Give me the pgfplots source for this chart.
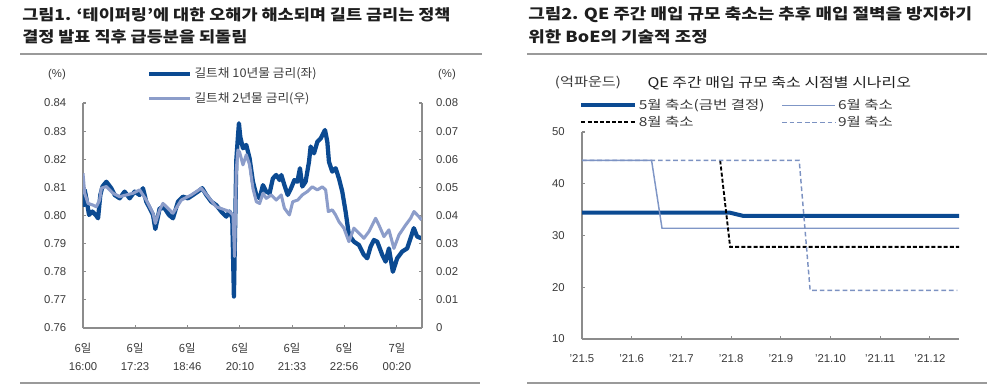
\documentclass[border=0pt]{standalone}
\usepackage{graphicx}
\usepackage{pgfplots}
\pgfplotsset{compat=1.18}
\usepackage{fontspec}
\setmainfont{Liberation Sans}
\newfontfamily\kr{Noto Sans CJK KR}
\definecolor{dkb}{HTML}{0B4A92}
\definecolor{ltb}{HTML}{8C9DCA}
\definecolor{six}{HTML}{7F96C6}
\definecolor{nine}{HTML}{7C92C2}
\definecolor{axg}{HTML}{8C8C8C}
\definecolor{txg}{HTML}{3A3A3A}
\definecolor{ttl}{HTML}{1E1E1E}
\definecolor{rul}{HTML}{9A9A9A}
\newcommand{\sx}[2]{\scalebox{#1}[1]{#2}}

\pgfplotstableread{
m v
0 0.8031
2.7 0.8091
5.3 0.8061
9.6 0.8002
14.9 0.8014
20.2 0.8002
24.0 0.7990
27.6 0.8073
31.0 0.8103
37.2 0.8120
45.1 0.8097
50.4 0.8073
58.4 0.8061
66.3 0.8085
74.3 0.8061
82.2 0.8085
90.2 0.8073
95.5 0.8097
100.8 0.8049
106.2 0.8026
111.5 0.8002
115.2 0.7952
119.4 0.7996
122.1 0.8026
130.0 0.8026
136.9 0.8002
143.3 0.7990
151.3 0.8049
159.2 0.8067
167.2 0.8061
175.2 0.8073
183.1 0.8085
190.0 0.8097
196.4 0.8073
204.4 0.8049
212.3 0.8037
220.3 0.8014
228.2 0.7996
233.5 0.8014
237.8 0.7990
240.4 0.7712
244.2 0.8197
246.8 0.8280
248.4 0.8328
250.5 0.8280
254.8 0.8239
260.1 0.8251
265.4 0.8203
270.7 0.8120
276.1 0.8073
281.4 0.8061
286.6 0.8108
291.9 0.8085
297.2 0.8079
302.5 0.8132
307.8 0.8144
313.2 0.8126
316.0 0.8144
320.8 0.8108
326.1 0.8073
331.4 0.8097
336.7 0.8126
341.5 0.8120
345.6 0.8168
349.3 0.8103
354.6 0.8120
360.0 0.8191
362.6 0.8245
368.0 0.8221
373.3 0.8262
378.6 0.8274
385.5 0.8304
389.2 0.8262
391.8 0.8191
397.1 0.8156
402.4 0.8168
407.7 0.8132
413.0 0.8085
418.3 0.8014
423.6 0.7931
431.6 0.7907
439.6 0.7895
447.5 0.7860
452.8 0.7848
458.1 0.7889
463.4 0.7913
468.7 0.7907
476.7 0.7860
482.0 0.7836
487.3 0.7883
493.6 0.7800
500.5 0.7848
508.5 0.7872
516.4 0.7883
521.7 0.7919
527.0 0.7955
532.3 0.7925
539.2 0.7919
}\tenY

\pgfplotstableread{
m v
0 0.0550
2.7 0.0479
8.0 0.0443
15.9 0.0437
21.2 0.0431
26.5 0.0455
29.2 0.0497
37.2 0.0503
47.8 0.0479
58.4 0.0467
69.0 0.0473
79.6 0.0479
90.2 0.0491
100.8 0.0455
111.5 0.0408
115.2 0.0372
122.1 0.0420
127.4 0.0443
143.3 0.0408
156.6 0.0455
172.5 0.0473
188.4 0.0497
212.3 0.0431
233.5 0.0414
238.9 0.0402
241.5 0.0254
244.2 0.0562
246.8 0.0633
249.5 0.0625
254.8 0.0580
260.1 0.0616
265.4 0.0580
270.7 0.0497
276.1 0.0449
281.4 0.0443
286.6 0.0479
291.9 0.0461
299.9 0.0473
307.8 0.0455
315.8 0.0473
320.8 0.0426
328.8 0.0402
334.1 0.0449
342.1 0.0455
349.3 0.0473
357.3 0.0485
365.3 0.0502
373.3 0.0491
381.2 0.0502
386.5 0.0491
390.8 0.0414
397.1 0.0420
402.4 0.0402
407.7 0.0378
415.6 0.0355
423.6 0.0307
431.6 0.0355
439.6 0.0337
447.5 0.0319
455.5 0.0343
466.1 0.0390
471.4 0.0366
479.4 0.0325
487.3 0.0349
495.3 0.0283
503.3 0.0331
513.9 0.0366
521.9 0.0390
527.2 0.0414
535.1 0.0396
539.2 0.0384
}\twoY

\pgfplotsset{
  base/.style={
    scale only axis,
    axis line style={axg, line width=0.9pt},
    tick style={axg, line width=0.8pt},
    major tick length=2.6pt,
    tick align=inside,
    ticklabel style={font=\fontsize{8.5}{13.5}\selectfont, text=txg},
    /pgf/number format/assume math mode=true,
    scaled ticks=false,
    clip=true,
  },
}

\begin{document}
\begin{tikzpicture}
\path[use as bounding box] (0pt,0pt) rectangle (750pt,-289.5pt);

% ---------- titles and rules ----------
\tikzset{ttlstyle/.style={anchor=west, inner sep=0pt, text=ttl, font=\kr\bfseries\fontsize{11.4}{13}\selectfont}}
\node[ttlstyle] at (16.5pt,-11.25pt) {\sx{1.15}{그림1. ‘테이퍼링’에 대한 오해가 해소되며 길트 금리는 정책}};
\node[ttlstyle] at (16.5pt,-27.75pt) {\sx{1.15}{결정 발표 직후 급등분을 되돌림}};
\node[ttlstyle] at (396pt,-11.25pt) {\sx{1.18}{그림2. QE 주간 매입 규모 축소는 추후 매입 절벽을 방지하기}};
\node[ttlstyle] at (396pt,-27.75pt) {\sx{1.18}{위한 BoE의 기술적 조정}};
\draw[rul, line width=1.5pt] (15pt,-40.5pt) -- (361.5pt,-40.5pt);
\draw[rul, line width=1.5pt] (395.25pt,-40.5pt) -- (740.25pt,-40.5pt);
\draw[rul, line width=1.1pt] (15pt,-287.25pt) -- (360pt,-287.25pt);
\draw[rul, line width=1.1pt] (395.25pt,-287.25pt) -- (740.25pt,-287.25pt);

% ---------- left chart ----------
\node[text=txg, font=\fontsize{8.5}{10}\selectfont] at (42.75pt,-56.25pt) {(\%)};
\node[text=txg, font=\fontsize{8.5}{10}\selectfont] at (335.25pt,-56.25pt) {(\%)};

\begin{axis}[base,
  at={(62.25pt,-246pt)}, anchor=south west,
  width=254.25pt, height=168.75pt,
  xmin=0, xmax=540, ymin=0.76, ymax=0.84,
  axis x line*=bottom, axis y line*=left,
  xtick={0,83,166,250,333,416,500},
  xticklabels={{{\kr 6일}\\16:00},{{\kr 6일}\\17:23},{{\kr 6일}\\18:46},{{\kr 6일}\\20:10},{{\kr 6일}\\21:33},{{\kr 6일}\\22:56},{{\kr 7일}\\00:20}},
  xticklabel style={align=center, yshift=-8pt},
  ytick={0.76,0.77,0.78,0.79,0.80,0.81,0.82,0.83,0.84},
  yticklabel style={/pgf/number format/.cd, fixed, fixed zerofill, precision=2, /tikz/.cd, xshift=-9pt},
]
\addplot[dkb, line width=3.2pt, line join=round] table[x=m, y=v] {\tenY};
\end{axis}

\begin{axis}[base,
  at={(62.25pt,-246pt)}, anchor=south west,
  width=254.25pt, height=168.75pt,
  xmin=0, xmax=540, ymin=0, ymax=0.08,
  axis x line=none, axis y line*=right,
  ytick={0,0.01,0.02,0.03,0.04,0.05,0.06,0.07,0.08},
  yticklabel style={/pgf/number format/.cd, fixed, precision=2, /tikz/.cd, xshift=7pt},
  legend cell align=left,
  legend style={at={(0.176,1.178)}, anchor=north west, draw=none, fill=none,
    font=\kr\fontsize{9}{10}\selectfont, text=txg, row sep=6.3pt,
    nodes={inner sep=1.5pt}},
  legend image code/.code={\draw[#1] (0pt,0pt) -- (31pt,0pt);},
]
\addlegendimage{dkb, line width=3.2pt}
\addlegendentry{\sx{1.06}{길트채 10년물 금리(좌)}}
\addplot[ltb, line width=2.3pt, line join=round] table[x=m, y=v] {\twoY};
\addlegendentry{\sx{1.06}{길트채 2년물 금리(우)}}
\end{axis}

% ---------- right chart ----------
\node[text=txg, font=\kr\fontsize{9.5}{10}\selectfont] at (441pt,-62.25pt) {\sx{1.2}{(억파운드)}};
\node[text=ttl, font=\kr\fontsize{10}{11}\selectfont] at (584.5pt,-62.25pt) {\sx{1.2}{QE 주간 매입 규모 축소 시점별 시나리오}};

\begin{axis}[base,
  at={(436.5pt,-254.25pt)}, anchor=south west,
  width=282.75pt, height=155.25pt,
  xmin=0, xmax=7.585, ymin=10, ymax=50,
  axis x line*=bottom, axis y line*=left,
  xtick={0,1,2,3,4,5,6,7},
  xticklabels={'21.5,'21.6,'21.7,'21.8,'21.9,'21.10,'21.11,'21.12},
  xticklabel style={yshift=-8pt},
  ytick={10,20,30,40,50},
  yticklabel style={xshift=-9.5pt},
  legend columns=2,
  legend cell align=left,
  legend style={at={(-0.018,1.182)}, anchor=north west, draw=none, fill=none,
    font=\kr\fontsize{9.3}{10}\selectfont, text=txg, row sep=0.5pt,
    /tikz/every even column/.append style={column sep=11pt},
    nodes={inner sep=1.5pt}},
  legend image code/.code={\draw[#1] (0pt,0pt) -- (40pt,0pt);},
]
\addplot[dkb, line width=3pt] coordinates {(0,34.4) (2.98,34.4) (3.24,33.8) (7.585,33.8)};
\addlegendentry{\sx{1.25}{5월 축소(금번 결정)}}
\addplot[six, line width=1.1pt] coordinates {(0,44.5) (1.40,44.5) (1.61,31.4) (7.585,31.4)};
\addlegendentry{\sx{1.25}{6월 축소}}
\addplot[black, line width=1.4pt, dash pattern=on 3pt off 1.6pt] coordinates {(2.78,44.5) (2.98,27.8) (7.585,27.8)};
\addlegendentry{\sx{1.25}{8월 축소}}
\addplot[nine, line width=1.1pt, dash pattern=on 3.5pt off 2.2pt] coordinates {(0,44.5) (4.37,44.5) (4.59,19.4) (7.55,19.4)};
\addlegendentry{\sx{1.25}{9월 축소}}
\end{axis}
\end{tikzpicture}
\end{document}
